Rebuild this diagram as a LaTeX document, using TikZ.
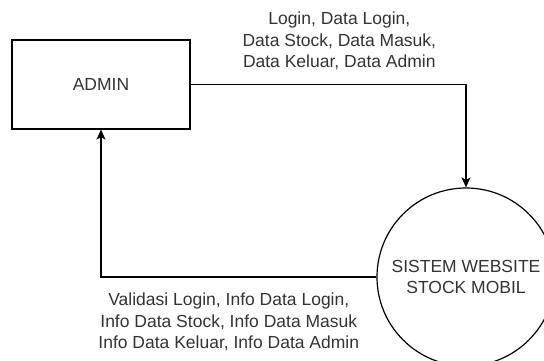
\documentclass[tikz,border=0pt]{standalone}
\usepackage{fontspec}
\setmainfont{Liberation Sans}
\usetikzlibrary{arrows.meta}

\definecolor{txtgray}{RGB}{51,51,51}

\begin{document}
\begin{tikzpicture}[x=1pt, y=-1pt, line width=1.2pt,
  >={Stealth[length=10pt, width=9pt, inset=2.5pt]},
  entity/.style = {draw, rectangle, minimum width=178pt, minimum height=89pt, inner sep=0pt},
  process/.style = {draw, circle, minimum size=178pt, inner sep=0pt, align=center},
  flow/.style = {align=center, text=txtgray, inner sep=0pt},
  font=\fontsize{17.5}{21.5}\selectfont]
\useasboundingbox (0,0) rectangle (544,361);
\node[entity, text=txtgray] (admin) at (101,84.5) {ADMIN};
\node[process, text=txtgray] (sys) at (466,277) {SISTEM WEBSITE\\STOCK MOBIL};
\draw[->] (admin.east) -| node[pos=0.27, above=14pt, flow]{Login, Data Login,\\Data Stock, Data Masuk,\\Data Keluar, Data Admin} (sys.north);
\draw[->] (sys.west) -| node[pos=0.268, below=15.5pt, flow]{Validasi Login, Info Data Login,\\Info Data Stock, Info Data Masuk\\Info Data Keluar, Info Data Admin} (admin.south);
\end{tikzpicture}
\end{document}
